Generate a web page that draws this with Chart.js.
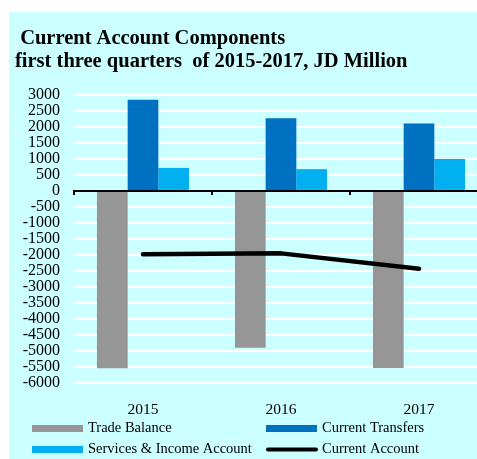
<!DOCTYPE html>
<html>
<head>
<meta charset="utf-8">
<script src="https://cdn.jsdelivr.net/npm/chart.js@4/dist/chart.umd.min.js"></script>
<style>
	html, body { margin: 0; padding: 0; overflow: hidden; background: #fff; }
	canvas { display: block; }
</style>
</head>
<body>
<canvas id="caChart" width="490" height="459"></canvas>
<script>
// first three quarters, JD million
const years = ['2015', '2016', '2017'];
const tradeBalance = [-5540, -4900, -5530];
const currentTransfers = [2850, 2270, 2110];
const servicesIncome = [720, 680, 1000];
const currentAccount = [-1980, -1950, -2430];

const titleLines = [' Current Account Components', 'first three quarters  of 2015-2017, JD Million'];
const serif = "'Liberation Serif', 'Times New Roman', serif";

// cyan panel behind the whole chart
const panelBackground = {
	id: 'panelBackground',
	beforeDraw: function (chart) {
		const ctx = chart.ctx;
		ctx.save();
		ctx.fillStyle = '#ffffff';
		ctx.fillRect(0, 0, chart.width, chart.height);
		ctx.fillStyle = '#ccffff';
		ctx.fillRect(9, 12, chart.width - 9, chart.height - 12);
		ctx.restore();
	}
};

// black zero line with small ticks between the year groups
const zeroAxis = {
	id: 'zeroAxis',
	afterDatasetsDraw: function (chart) {
		const ctx = chart.ctx;
		const x = chart.scales.x;
		const y0 = chart.scales.y.getPixelForValue(0);
		ctx.save();
		ctx.strokeStyle = '#000';
		ctx.lineWidth = 2;
		ctx.beginPath();
		ctx.moveTo(chart.chartArea.left, y0);
		ctx.lineTo(chart.chartArea.right, y0);
		for (let i = 0; i <= years.length; i++) {
			const px = Math.round(x.getPixelForValue(i - 0.5));
			ctx.moveTo(px, y0 - 1);
			ctx.lineTo(px, y0 + 4);
		}
		ctx.stroke();
		ctx.restore();
	}
};

// two-column legend under the year labels
const gridLegend = {
	id: 'gridLegend',
	afterDraw: function (chart) {
		const ctx = chart.ctx;
		const cols = [32, 266];
		const rows = [chart.chartArea.bottom + 45.5, chart.chartArea.bottom + 66.5];
		ctx.save();
		ctx.font = '14.5px ' + serif;
		ctx.textBaseline = 'middle';
		ctx.textAlign = 'left';
		chart.data.datasets.forEach(function (ds, i) {
			const x = cols[i % 2];
			const y = rows[Math.floor(i / 2)];
			if (ds.type === 'line') {
				ctx.strokeStyle = ds.borderColor;
				ctx.lineWidth = 4;
				ctx.lineCap = 'round';
				ctx.beginPath();
				ctx.moveTo(x + 2, y);
				ctx.lineTo(x + 50, y);
				ctx.stroke();
			} else {
				ctx.fillStyle = ds.backgroundColor;
				ctx.fillRect(x, y - 3.5, 51, 7);
			}
			ctx.fillStyle = '#000';
			ctx.fillText(ds.label, x + 56, y);
		});
		ctx.restore();
	}
};

new Chart(document.getElementById('caChart'), {
	type: 'bar',
	data: {
		labels: years,
		datasets: [
			{ label: 'Trade Balance', data: tradeBalance, backgroundColor: '#969696', order: 1 },
			{ label: 'Current Transfers', data: currentTransfers, backgroundColor: '#0070c0', order: 1 },
			{ label: 'Services & Income Account', data: servicesIncome, backgroundColor: '#00b0f0', order: 1 },
			{
				type: 'line',
				label: 'Current Account',
				data: currentAccount,
				borderColor: '#000',
				backgroundColor: '#000',
				borderWidth: 4.5,
				borderCapStyle: 'round',
				borderJoinStyle: 'round',
				pointRadius: 0,
				tension: 0,
				fill: false,
				order: 0
			}
		]
	},
	options: {
		responsive: false,
		animation: false,
		layout: {
			padding: { left: 15, right: 2, top: 0, bottom: 0 }
		},
		datasets: {
			bar: {
				categoryPercentage: 0.667,
				barPercentage: 1.0
			}
		},
		scales: {
			x: {
				border: { display: false },
				grid: { display: false },
				ticks: {
					color: '#000',
					padding: 10,
					font: { family: serif, size: 15.5 }
				},
				afterFit: function (scale) { scale.height = 76; }
			},
			y: {
				min: -6000,
				max: 3000,
				border: { display: false },
				grid: {
					color: '#ffffff',
					lineWidth: 2,
					drawTicks: false
				},
				ticks: {
					stepSize: 500,
					autoSkip: false,
					color: '#000',
					padding: 14,
					font: { family: serif, size: 16, lineHeight: 1 },
					callback: function (v) { return String(v); }
				},
				afterFit: function (scale) { scale.width = 59; }
			}
		},
		plugins: {
			legend: { display: false },
			tooltip: { enabled: false },
			title: {
				display: true,
				text: titleLines,
				align: 'start',
				color: '#000',
				font: { family: serif, size: 20.5, weight: 'bold', lineHeight: 1.12 },
				padding: { top: 27, bottom: 22 }
			}
		}
	},
	plugins: [panelBackground, zeroAxis, gridLegend]
});
</script>
</body>
</html>
